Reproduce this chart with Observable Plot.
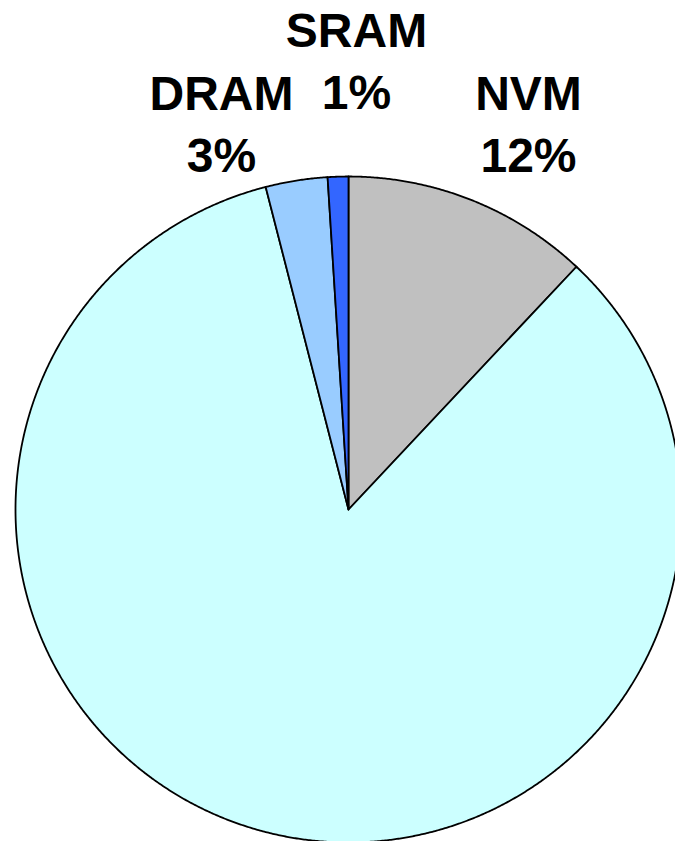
<!DOCTYPE html>
<html>
<head>
<meta charset="utf-8">
<script src="https://cdn.jsdelivr.net/npm/d3@7"></script>
<script src="https://cdn.jsdelivr.net/npm/@observablehq/plot@0.6"></script>
<style>
  html, body { margin: 0; padding: 0; background: #fff; }
</style>
</head>
<body>
<div id="chart"></div>
<script>
// Data (clockwise from 12 o'clock)
const categories = ["NVM", "Other", "DRAM", "SRAM"];
const shares = [12, 84, 3, 1];
const labels = ["NVM\n12%", "", "DRAM\n3%", "SRAM\n1%"];
const colors = ["#C0C0C0", "#CCFFFF", "#99CCFF", "#3366FF"];

// Layout (not data)
const W = 675, H = 841;
const cx = 348, cy = 509, R = 333;
const labelAnchors = { NVM: [528, 66], DRAM: [221, 66], SRAM: [356, 3] }; // px

const total = d3.sum(shares);
const pts = [];
let acc = 0;
categories.forEach((c, i) => {
  const a0 = acc / total * 2 * Math.PI;
  acc += shares[i];
  const a1 = acc / total * 2 * Math.PI;
  pts.push({cat: c, x: 0, y: 0});
  const n = Math.max(2, Math.ceil((a1 - a0) / (Math.PI / 720)));
  for (let k = 0; k <= n; k++) {
    const a = a0 + (a1 - a0) * k / n;
    pts.push({cat: c, x: Math.sin(a), y: Math.cos(a)});
  }
});

const labelData = categories.map((c, i) => ({cat: c, text: labels[i]}))
  .filter(d => d.text)
  .map(d => ({...d, x: (labelAnchors[d.cat][0] - cx) / R, y: (cy - labelAnchors[d.cat][1]) / R}));

const chart = Plot.plot({
  width: W, height: H,
  margin: 0,
  x: {domain: [-cx / R, (W - cx) / R], axis: null},
  y: {domain: [(cy - H) / R, cy / R], axis: null},
  color: {domain: categories, range: colors},
  marks: [
    Plot.line(pts, {x: "x", y: "y", z: "cat", fill: "cat", stroke: "#000", strokeWidth: 1.8, curve: "linear-closed", strokeLinejoin: "round"}),
    Plot.text(labelData, {x: "x", y: "y", text: "text", fontSize: 48, fontWeight: "bold", fontFamily: "Liberation Sans, Arial, sans-serif", fill: "#000", textAnchor: "middle", lineAnchor: "top", lineHeight: 1.29})
  ]
});
document.getElementById("chart").appendChild(chart);
</script>
</body>
</html>
